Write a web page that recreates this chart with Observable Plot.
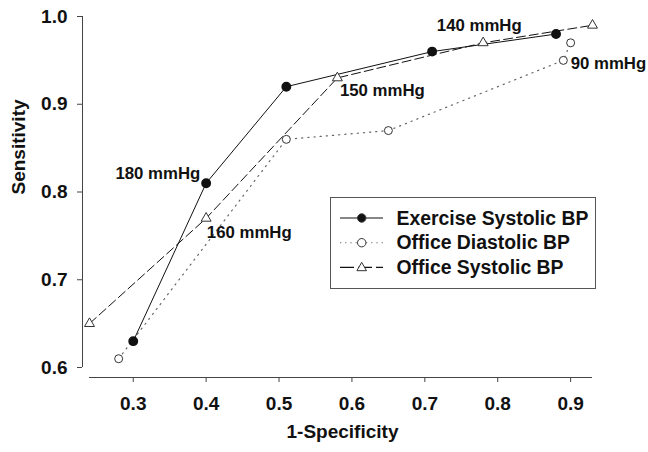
<!DOCTYPE html>
<html><head><meta charset="utf-8">
<script src="https://cdn.jsdelivr.net/npm/d3@7"></script>
<script src="https://cdn.jsdelivr.net/npm/@observablehq/plot@0.6"></script>
<style>
body{margin:0;background:#fff;}
#wrap{position:relative;width:648px;height:452px;font-family:"Liberation Sans",Arial,sans-serif;}
#legend{position:absolute;left:330px;top:197px;}
</style>
</head><body><div id="wrap"></div>
<script>
// Series
const series = ["Exercise Systolic BP", "Office Diastolic BP", "Office Systolic BP"];
const exX  = [0.30, 0.40, 0.51, 0.71, 0.88];
const exY  = [0.63, 0.81, 0.92, 0.96, 0.98];
const diaX = [0.28, 0.51, 0.65, 0.89, 0.90];
const diaY = [0.61, 0.86, 0.87, 0.95, 0.97];
const sysX = [0.24, 0.40, 0.58, 0.78, 0.93];
const sysY = [0.65, 0.77, 0.93, 0.97, 0.99];
// Axes
const xDomain = [0.24, 0.93];
const yDomain = [0.6, 1.0];
const xTicks = [0.3, 0.4, 0.5, 0.6, 0.7, 0.8, 0.9];
const yTicks = [0.6, 0.7, 0.8, 0.9, 1.0];
const xLabel = "1-Specificity";
const yLabel = "Sensitivity";
// Threshold annotations (data coordinates)
const annLabels = ["180 mmHg", "160 mmHg", "150 mmHg", "140 mmHg", "90 mmHg"];
const annX = [0.392, 0.401, 0.5835, 0.7165, 0.900];
const annY = [0.821, 0.7535, 0.9155, 0.990, 0.9465];
const annAnchor = ["end", "start", "start", "start", "start"];

const pts = (xs, ys) => xs.map((x, i) => ({x, y: ys[i]}));
const ex = pts(exX, exY), dia = pts(diaX, diaY), sys = pts(sysX, sysY);
const ann = annLabels.map((t, i) => ({t, x: annX[i], y: annY[i], a: annAnchor[i]}));

const FONT = '"Liberation Sans", Arial, sans-serif';
const INK = "#111";

const chart = Plot.plot({
  width: 648, height: 452,
  marginLeft: 82, marginRight: 56, marginTop: 16, marginBottom: 75,
  x: {domain: xDomain, insetLeft: 7},
  y: {domain: yDomain, insetBottom: 10},
  style: {fontFamily: FONT, background: "white", color: INK, overflow: "visible"},
  marks: [
    Plot.ruleX([xDomain[0]], {y1: yDomain[0], y2: yDomain[1], dx: -7, stroke: "#444"}),
    Plot.ruleY([yDomain[0]], {x1: xDomain[0], x2: xDomain[1], dy: 10, stroke: "#444"}),
    Plot.axisX({ticks: xTicks, tickFormat: d3.format(".1f"), tickSize: 5, tickPadding: 14,
      fontSize: 19, fontWeight: "bold", label: null, stroke: "#444"}),
    Plot.axisY({ticks: yTicks, tickFormat: d3.format(".1f"), tickSize: 5, tickPadding: 10,
      fontSize: 19, fontWeight: "bold", label: null, stroke: "#444"}),
    Plot.text([xLabel], {frameAnchor: "bottom", dy: 60, dx: 5, text: d => d, fontSize: 19, fontWeight: "bold"}),
    Plot.text([yLabel], {frameAnchor: "left", dx: -64, dy: -2.5, rotate: -90, text: d => d, fontSize: 19, fontWeight: "bold"}),
    Plot.line(dia, {x: "x", y: "y", stroke: "#666", strokeWidth: 1.2, strokeDasharray: "1.2,5"}),
    Plot.line(sys, {x: "x", y: "y", stroke: INK, strokeWidth: 1, strokeDasharray: "9,4"}),
    Plot.line(ex, {x: "x", y: "y", stroke: INK, strokeWidth: 1}),
    Plot.dot(dia, {x: "x", y: "y", r: 4, fill: "white", stroke: "#333", strokeWidth: 1}),
    Plot.dot(sys, {x: "x", y: "y", r: 3.7, symbol: "triangle", fill: "white", stroke: "#333", strokeWidth: 1}),
    Plot.dot(ex, {x: "x", y: "y", r: 4.2, fill: INK, stroke: INK}),
    Plot.text(ann.filter(d => d.a === "end"), {x: "x", y: "y", text: "t", textAnchor: "end", fontSize: 16.8, fontWeight: "bold"}),
    Plot.text(ann.filter(d => d.a === "start"), {x: "x", y: "y", text: "t", textAnchor: "start", fontSize: 16.8, fontWeight: "bold"})
  ]
});
const wrap = document.getElementById("wrap");
wrap.appendChild(chart);

// Legend box inside plot area
const styles = [
  {dash: null, stroke: INK, marker: "circle", fill: INK},
  {dash: "1.2,4", stroke: "#666", marker: "circle", fill: "white"},
  {dash: "14,4", stroke: INK, marker: "triangle", fill: "white"}
];
const lw = 266, lh = 92;
const leg = d3.select(wrap).append("svg").attr("id", "legend")
  .attr("width", lw).attr("height", lh);
leg.append("rect").attr("x", 0.5).attr("y", 0.5).attr("width", lw - 1).attr("height", lh - 1)
  .attr("fill", "white").attr("stroke", "#555");
series.forEach((name, i) => {
  const cy = 21 + i * 24.7;
  const s = styles[i];
  const g = leg.append("g");
  g.append("line").attr("x1", 10).attr("x2", 53).attr("y1", cy).attr("y2", cy)
    .attr("stroke", s.stroke).attr("stroke-width", 1.1).attr("stroke-dasharray", s.dash);
  if (s.marker === "circle") {
    g.append("circle").attr("cx", 31.7).attr("cy", cy).attr("r", 4.2)
      .attr("fill", s.fill).attr("stroke", "#333");
  } else {
    g.append("path").attr("d", d3.symbol(d3.symbolTriangle, 40)())
      .attr("transform", `translate(31.7,${cy + 0.5})`).attr("fill", "white").attr("stroke", "#333");
  }
  g.append("text").attr("x", 66.5).attr("y", cy).attr("dy", "0.35em")
    .attr("font-family", FONT).attr("font-size", 19.4).attr("font-weight", "bold")
    .attr("fill", INK).text(name);
});
</script>
</body></html>
